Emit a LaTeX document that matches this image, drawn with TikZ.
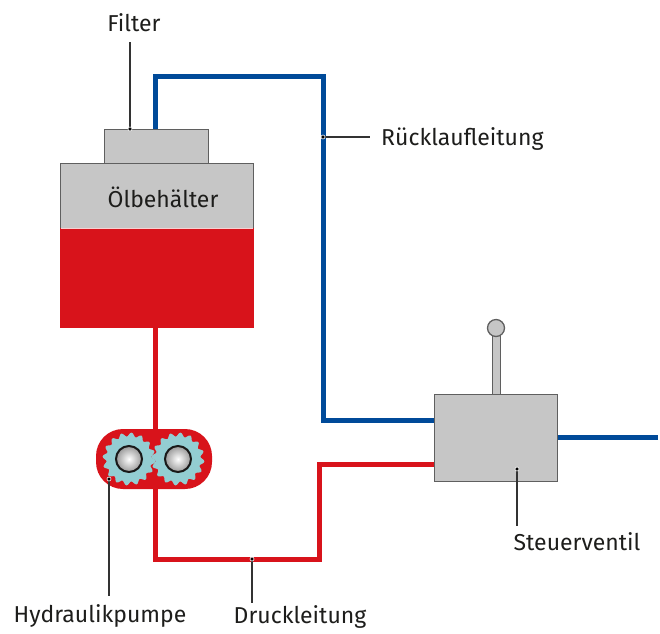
\documentclass[tikz,border=0pt]{standalone}
\usepackage{fontspec}
\setmainfont{Fira Sans}
\definecolor{pipeblue}{HTML}{004A99}
\definecolor{pipered}{HTML}{D8131B}
\definecolor{partgray}{HTML}{C6C6C6}
\definecolor{edgegray}{HTML}{5F5F5F}
\definecolor{gearteal}{HTML}{93CDD2}
\definecolor{leader}{HTML}{333333}
\definecolor{labeltext}{HTML}{1D1D1B}
\tikzset{
  part/.style={draw=edgegray,line width=1.3pt,fill=partgray,inner sep=0pt,anchor=north west},
  blueline/.style={draw=pipeblue,line width=5pt,line join=miter},
  redline/.style={draw=pipered,line width=5pt,line join=miter},
  leadline/.style={draw=leader,line width=1.3pt},
  label/.style={inner sep=0pt,text=labeltext,font=\fontsize{23}{27}\selectfont},
  dotmark/.style={circle,fill=black,draw=white,line width=.6pt,inner sep=0pt,minimum size=4pt},
}
\newcommand{\gearshape}[2]{\fill[gearteal] plot[smooth,samples=129,domain=0:360,variable=\t] ({#1+(24.5+2*sin(16*\t))*cos(\t)},{#2+(24.5+2*sin(16*\t))*sin(\t)}) -- cycle;}
\newcommand{\bearing}[3]{\node[circle,draw=black!90,line width=2pt,inner sep=0pt,minimum size=26pt,inner color=white,outer color=gray!80] (#3) at (#1,#2) {};}
\begin{document}
\begin{tikzpicture}[x=1pt,y=-1pt]
\useasboundingbox (0,0) rectangle (660,633);
% pipes first
\coordinate (blueA) at (155,129);
\coordinate (blueB) at (155,76);
\coordinate (blueC) at (323,76);
\coordinate (blueD) at (323,420);
\coordinate (blueE) at (435,420);
\coordinate (blueOut) at (658,437);
\coordinate (redA) at (155,327);
\coordinate (redB) at (155,559);
\coordinate (redC) at (319,559);
\coordinate (redD) at (319,464);
\coordinate (redE) at (435,464);
\draw[blueline] (blueA) -- (blueB) -- (blueC) -- (blueD) -- (blueE);
\draw[blueline] (557,437) -- (blueOut);
\draw[redline] (redA) -- (redB) -- (redC) -- (redD) -- (redE);
% tank
\node[part,minimum width=104pt,minimum height=34pt] (filter) at (104,129) {};
\node[part,minimum width=193pt,minimum height=164pt] (tank) at (60,163) {};
\fill[pipered] (60,228) rectangle (253.6,327.6);
\draw[white!80!pipered,line width=.6pt] (60.6,228) -- (253,228);
% valve
\node[part,minimum width=8pt,minimum height=60pt] (lever) at (492,335) {};
\node[circle,draw=edgegray,line width=1.3pt,fill=partgray,inner sep=0pt,minimum size=17pt] (ball) at (496,328) {};
\node[part,minimum width=123pt,minimum height=87pt] (valve) at (434,394) {};
% pump
\fill[pipered,rounded corners=27pt] (96,429) rectangle (212,489);
\gearshape{129}{459}
\gearshape{178}{459}
\bearing{129}{459}{bearL}
\bearing{178}{459}{bearR}
% labels
\node[label] (lfilter) at (134,23) {Filter};
\node[label] (ltank) at (163,197) {Ölbehälter};
\node[label,anchor=west] (lruck) at (381,139) {Rücklaufleitung};
\node[label] (lsteuer) at (577,542) {Steuerventil};
\node[label] (lhyd) at (100,616) {Hydraulikpumpe};
\node[label] (ldruck) at (300,617) {Druckleitung};
% leaders
\coordinate (pFilter) at (130,129);
\coordinate (pRuck) at (323,137);
\coordinate (pSteuer) at (517,469);
\coordinate (pHyd) at (109,479);
\coordinate (pDruck) at (252,559);
\coordinate (eFilter) at (130,42);
\coordinate (eRuck) at (370,137);
\coordinate (eSteuer) at (517,526);
\coordinate (eHyd) at (109,596);
\coordinate (eDruck) at (252,603);
\draw[leadline] (pFilter) -- (eFilter);
\draw[leadline] (pRuck) -- (eRuck);
\draw[leadline] (pSteuer) -- (eSteuer);
\draw[leadline] (pHyd) -- (eHyd);
\draw[leadline] (pDruck) -- (eDruck);
\foreach \p in {pFilter,pRuck,pSteuer,pHyd,pDruck} \node[dotmark] at (\p) {};
\end{tikzpicture}
\end{document}
